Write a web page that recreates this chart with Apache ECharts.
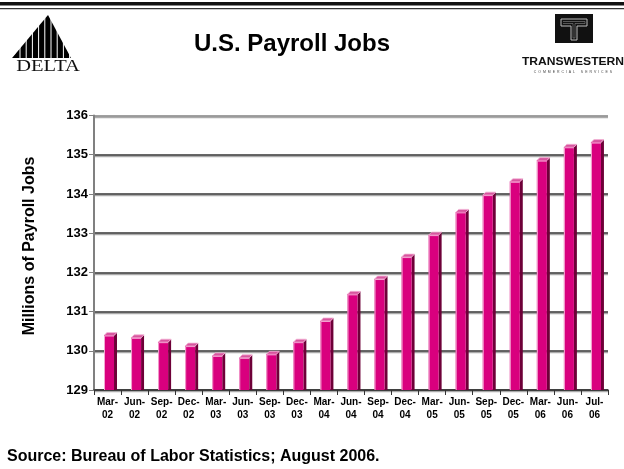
<!DOCTYPE html>
<html>
<head>
<meta charset="utf-8">
<script src="https://cdn.jsdelivr.net/npm/echarts@6/dist/echarts.min.js"></script>
<style>
  html, body { margin: 0; padding: 0; background: #fff; }
  #chart { width: 624px; height: 469px; }
</style>
</head>
<body>
<div id="chart"></div>
<script>
// Quarter-end payroll employment, millions of jobs
const periods = ['Mar-02','Jun-02','Sep-02','Dec-02','Mar-03','Jun-03','Sep-03','Dec-03',
                 'Mar-04','Jun-04','Sep-04','Dec-04','Mar-05','Jun-05','Sep-05','Dec-05',
                 'Mar-06','Jun-06','Jul-06'];
const payrollJobs = [130.39,130.33,130.22,130.12,129.87,129.82,129.91,130.22,
                     130.76,131.44,131.83,132.39,132.95,133.53,133.97,134.31,
                     134.85,135.19,135.31];
const yMin = 129, yMax = 136, yStep = 1;

const chart = echarts.init(document.getElementById('chart'), null, { renderer: 'canvas' });

// Bars with a front face, a dark right side and a light top cap
function renderBar(params, api) {
  const i = api.value(0);
  const v = api.value(1);
  const top = api.coord([i, v]);
  const base = api.coord([i, yMin]);
  const band = api.size([1, 0])[0];
  const fw = band * 0.37;
  const d = band * 0.11;
  const x0 = top[0] - band * 0.13;
  const x1 = x0 + fw;
  const yt = top[1], yb = base[1];
  return {
    type: 'group',
    children: [
      { type: 'polygon', shape: { points: [[x1, yt], [x1 + d, yt - d], [x1 + d, yb], [x1, yb]] },
        style: { fill: '#6e0038' } },
      { type: 'polygon', shape: { points: [[x0, yt], [x0 + d, yt - d], [x1 + d, yt - d], [x1, yt]] },
        style: { fill: '#d8559f', stroke: '#f2b4d6', lineWidth: 0.8 } },
      { type: 'rect', shape: { x: x0, y: yt, width: fw, height: yb - yt },
        style: { fill: '#d9007e' } },
      { type: 'polyline', shape: { points: [[x0 + 0.5, yb], [x0 + 0.5, yt + 0.5], [x1, yt + 0.5]] },
        style: { stroke: '#f4a6d2', lineWidth: 1, fill: null } }
    ]
  };
}

// Company marks drawn as vector shapes
const deltaStripes = [];
for (let k = 0; k < 9; k++) {
  const x = 20 + k * 6.2;
  deltaStripes.push({ type: 'line', shape: { x1: x, y1: 18, x2: x, y2: 58 },
    style: { stroke: '#fff', lineWidth: 1 } });
}

const option = {
  animation: false,
  grid: { left: 94, right: 16, top: 115.5, bottom: 79, containLabel: false },
  xAxis: {
    type: 'category',
    data: periods,
    boundaryGap: true,
    axisLine: { lineStyle: { color: '#333', width: 1.5 } },
    axisTick: { show: true, alignWithLabel: false, length: 5, lineStyle: { color: '#333' } },
    axisLabel: {
      interval: 0,
      margin: 6,
      fontFamily: 'Liberation Sans, Arial, sans-serif',
      fontWeight: 'bold',
      fontSize: 10,
      lineHeight: 13,
      color: '#000',
      formatter: function (s) { const p = s.split('-'); return p[0] + '-\n' + p[1]; }
    }
  },
  yAxis: {
    type: 'value',
    min: yMin, max: yMax, interval: yStep,
    axisLine: { show: true, lineStyle: { color: '#808080', width: 2 } },
    axisTick: { show: true, length: 5, lineStyle: { color: '#808080', width: 1 } },
    axisLabel: {
      margin: 6,
      fontFamily: 'Liberation Sans, Arial, sans-serif',
      fontWeight: 'bold',
      fontSize: 13,
      color: '#000'
    },
    splitLine: {
      show: true,
      lineStyle: {
        color: ['#333', '#333', '#333', '#333', '#333', '#333', '#333', '#808080'],
        width: 1.5,
        shadowColor: '#aaa', shadowOffsetY: 1.5, shadowBlur: 0
      }
    }
  },
  series: [{
    type: 'custom',
    renderItem: renderBar,
    encode: { x: 0, y: 1 },
    data: payrollJobs.map((v, i) => [i, v]),
    clip: false,
    z: 3
  }],
  graphic: [
    // top rules
    { type: 'rect', shape: { x: 0, y: 2, width: 624, height: 3.5 }, style: { fill: '#111' } },
    { type: 'rect', shape: { x: 0, y: 8, width: 624, height: 1.2 }, style: { fill: '#333' } },
    // Delta mark
    { type: 'group', children: [
      { type: 'polygon', shape: { points: [[48, 15], [12, 58], [71, 58]] }, style: { fill: '#000' } }
    ].concat(deltaStripes).concat([
      { type: 'polygon', shape: { points: [[48, 13], [10, 60], [0, 60], [0, 10], [95, 10], [95, 60], [74, 60]] },
        style: { fill: '#fff' } },
      { type: 'text', x: 48, y: 67, scaleX: 1.28,
        style: { x: 0, y: 0, text: 'DELTA', align: 'center', verticalAlign: 'middle',
        font: '16px "Liberation Serif", "DejaVu Serif", serif', fill: '#111' } }
    ]) },
    // Title
    { type: 'text', style: { x: 292, y: 44, text: 'U.S. Payroll Jobs', align: 'center', verticalAlign: 'middle',
      font: 'bold 24px "Liberation Sans", Arial, sans-serif', fill: '#000' } },
    // Transwestern mark
    { type: 'rect', shape: { x: 555, y: 14, width: 38, height: 29 }, style: { fill: '#111' } },
    { type: 'polyline', shape: { points: [[561, 19], [587, 19], [587, 26], [577, 26], [577, 40], [571, 40], [571, 26], [561, 26], [561, 19]] },
      style: { stroke: '#bbb', lineWidth: 1, fill: null } },
    { type: 'polyline', shape: { points: [[563, 21.5], [585, 21.5], [585, 23.5], [575, 23.5], [575, 38], [573, 38], [573, 23.5], [563, 23.5]] },
      style: { stroke: '#888', lineWidth: 0.6, fill: null } },
    { type: 'text', x: 573, y: 62, scaleX: 1.1,
      style: { x: 0, y: 0, text: 'TRANSWESTERN', align: 'center', verticalAlign: 'middle',
      font: 'bold 11px "Liberation Sans Narrow", "Liberation Sans", Arial, sans-serif', fill: '#111' } },
    { type: 'text', style: { x: 573, y: 72, text: 'C  O  M  M  E  R  C  I  A  L      S  E  R  V  I  C  E  S', align: 'center', verticalAlign: 'middle',
      font: '3.5px "Liberation Sans", Arial, sans-serif', fill: '#444' } },
    // Axis title
    { type: 'text', rotation: Math.PI / 2, x: 30, y: 246,
      style: { x: 0, y: 0, text: 'Millions of Payroll Jobs', align: 'center', verticalAlign: 'middle',
        font: 'bold 16px "Liberation Sans", Arial, sans-serif', fill: '#000' } },
    // Source note
    { type: 'text', style: { x: 7, y: 457, text: 'Source: Bureau of Labor Statistics; August 2006.', align: 'left', verticalAlign: 'middle',
      font: 'bold 16px "Liberation Sans", Arial, sans-serif', fill: '#000' } }
  ]
};

chart.setOption(option);
</script>
</body>
</html>
